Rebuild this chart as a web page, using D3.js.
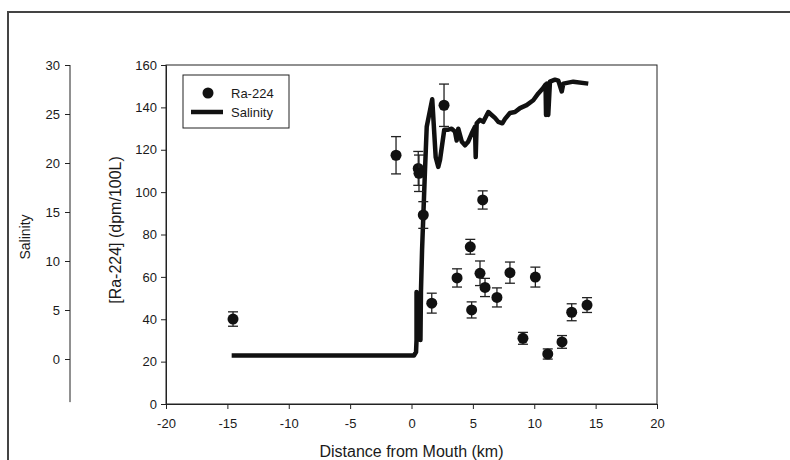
<!DOCTYPE html>
<html>
<head>
<meta charset="utf-8">
<script src="https://cdn.jsdelivr.net/npm/d3@7"></script>
<style>
body { margin: 0; background: #fff; }
svg text { font-family: "Liberation Sans", Arial, sans-serif; fill: #1a1a1a; }
</style>
</head>
<body>
<svg id="chart" width="790" height="460"></svg>
<script>
// Ra-224 samples: distance (km), activity (dpm/100L), error
var ra_km  = [-14.54, -1.26, 0.55, 0.61, 0.96, 1.65, 2.65, 3.71, 4.79, 4.9, 5.58, 5.8, 5.99, 6.96, 8.02, 9.08, 10.09, 11.1, 12.26, 13.05, 14.3];
var ra_val = [40.1, 117.4, 111.2, 108.9, 89.2, 47.6, 141, 59.5, 74.2, 44.4, 61.7, 96.3, 55, 50.3, 62, 31, 59.9, 23.6, 29.3, 43.3, 46.7];
var ra_err = [3.4, 8.8, 8, 8.6, 6.3, 4.7, 10, 4.3, 3.5, 3.8, 5.8, 4.3, 4.3, 4.5, 5, 2.8, 4.7, 2.4, 3, 4, 3.5];

// salinity transect
var sal_km  = [-14.65, 0.2, 0.37, 0.41, 0.41, 0.49, 0.49, 0.57, 0.57, 0.65, 0.65, 0.73, 0.77, 0.86, 1.1, 1.24, 1.69, 1.97, 2.18, 2.32, 2.67, 3.0, 3.27, 3.54, 3.68, 3.81, 4.09, 4.36, 4.63, 4.9, 5.17, 5.23, 5.31, 5.58, 5.85, 6.26, 6.53, 6.8, 7.07, 7.4, 7.62, 8.02, 8.43, 8.84, 9.38, 9.92, 10.33, 10.69, 10.92, 10.96, 11.04, 11.14, 11.28, 11.69, 11.96, 12.24, 12.37, 13.18, 14.4];
var sal_val = [0.36, 0.36, 0.71, 1.94, 6.84, 2.14, 6.73, 2.35, 6.63, 2.14, 6.53, 1.94, 6.84, 11.1, 19.3, 23.7, 26.5, 20.6, 19.6, 20.3, 23.4, 23.4, 23.5, 23.2, 22.3, 23.5, 22.2, 21.8, 22.2, 23.0, 23.7, 20.6, 24.05, 24.4, 24.2, 25.2, 24.9, 24.6, 24.2, 24.05, 24.5, 25.1, 25.2, 25.6, 25.9, 26.4, 27.1, 27.6, 28.0, 24.9, 28.1, 24.9, 28.3, 28.5, 28.4, 27.3, 28.1, 28.3, 28.1];

var x_ticks   = [-20, -15, -10, -5, 0, 5, 10, 15, 20];
var ra_ticks  = [0, 20, 40, 60, 80, 100, 120, 140, 160];
var sal_ticks = [0, 5, 10, 15, 20, 25, 30];

var svg = d3.select("#chart");

var x = d3.scaleLinear().domain([-20, 20]).range([166, 657]);
var y = d3.scaleLinear().domain([0, 160]).range([404, 65]);
var ys = d3.scaleLinear().domain([0, 30]).range([359, 65]);

var plain = function(d) { return String(d); }; // keep ascii hyphen for negatives

// outer frame
svg.append("path")
    .attr("d", "M8,460V12H790")
    .attr("fill", "none")
    .attr("stroke", "#444")
    .attr("stroke-width", 2);

// plot box
svg.append("rect")
    .attr("x", x(-20)).attr("y", y(160))
    .attr("width", x(20) - x(-20)).attr("height", y(0) - y(160))
    .attr("fill", "none")
    .attr("stroke", "#222");

var xAxis = svg.append("g")
    .attr("transform", "translate(0," + y(0) + ")")
    .call(d3.axisBottom(x).tickValues(x_ticks).tickSize(5).tickPadding(10).tickFormat(plain));

var yAxis = svg.append("g")
    .attr("transform", "translate(" + x(-20) + ",0)")
    .call(d3.axisLeft(y).tickValues(ra_ticks).tickSize(5).tickPadding(4).tickFormat(plain));

var sAxis = svg.append("g")
    .attr("transform", "translate(70,0)")
    .call(d3.axisLeft(ys).tickValues(sal_ticks).tickSize(5).tickPadding(5).tickFormat(plain));
sAxis.select(".domain").remove();
sAxis.append("line")
    .attr("y1", ys(30)).attr("y2", ys(-4.4))
    .attr("stroke", "#222");

[xAxis, yAxis, sAxis].forEach(function(a) {
    a.selectAll("text").style("font-size", "13px").attr("fill", "#1a1a1a");
    a.selectAll("line").attr("stroke", "#222");
    a.select(".domain").attr("stroke", "#222");
});

// axis titles
svg.append("text")
    .text("Distance from Mouth (km)")
    .attr("x", x(0)).attr("y", 451)
    .attr("text-anchor", "middle")
    .attr("dominant-baseline", "central")
    .style("font-size", "16px");

svg.append("text")
    .text("[Ra-224] (dpm/100L)")
    .attr("transform", "translate(115,230) rotate(-90)")
    .attr("text-anchor", "middle")
    .attr("dominant-baseline", "central")
    .style("font-size", "16px");

svg.append("text")
    .text("Salinity")
    .attr("transform", "translate(25,237) rotate(-90)")
    .attr("text-anchor", "middle")
    .attr("dominant-baseline", "central")
    .style("font-size", "14px");

// salinity line
var line_generator = d3.line()
    .x(function(d, i) { return x(sal_km[i]); })
    .y(function(d, i) { return ys(sal_val[i]); });

svg.append("path")
    .attr("d", line_generator(sal_val))
    .attr("fill", "none")
    .attr("stroke", "#111")
    .attr("stroke-width", 4.5)
    .attr("stroke-linejoin", "round");

// Ra-224 points with error bars
var pts = svg.selectAll(".pt")
    .data(ra_val)
    .enter()
    .append("g")
    .attr("class", "pt");

pts.append("line")
    .attr("x1", function(d, i) { return x(ra_km[i]); })
    .attr("x2", function(d, i) { return x(ra_km[i]); })
    .attr("y1", function(d, i) { return y(d - ra_err[i]); })
    .attr("y2", function(d, i) { return y(d + ra_err[i]); })
    .attr("stroke", "#222").attr("stroke-width", 1.3);

[1, -1].forEach(function(s) {
    pts.append("line")
        .attr("x1", function(d, i) { return x(ra_km[i]) - 5; })
        .attr("x2", function(d, i) { return x(ra_km[i]) + 5; })
        .attr("y1", function(d, i) { return y(d + s * ra_err[i]); })
        .attr("y2", function(d, i) { return y(d + s * ra_err[i]); })
        .attr("stroke", "#222").attr("stroke-width", 1.3);
});

pts.append("circle")
    .attr("cx", function(d, i) { return x(ra_km[i]); })
    .attr("cy", function(d) { return y(d); })
    .attr("r", 5.5)
    .style("fill", "#111");

// legend
var legend = svg.append("g");
legend.append("rect")
    .attr("x", 183).attr("y", 75)
    .attr("width", 106).attr("height", 53)
    .attr("fill", "#fff")
    .attr("stroke", "#222");
legend.append("circle")
    .attr("cx", 208).attr("cy", 93).attr("r", 5.5)
    .style("fill", "#111");
legend.append("line")
    .attr("x1", 191).attr("x2", 223)
    .attr("y1", 112).attr("y2", 112)
    .attr("stroke", "#111").attr("stroke-width", 4.5);
legend.append("text")
    .text("Ra-224")
    .attr("x", 231).attr("y", 93)
    .attr("dominant-baseline", "central")
    .style("font-size", "13px");
legend.append("text")
    .text("Salinity")
    .attr("x", 231).attr("y", 112)
    .attr("dominant-baseline", "central")
    .style("font-size", "13px");
</script>
</body>
</html>
